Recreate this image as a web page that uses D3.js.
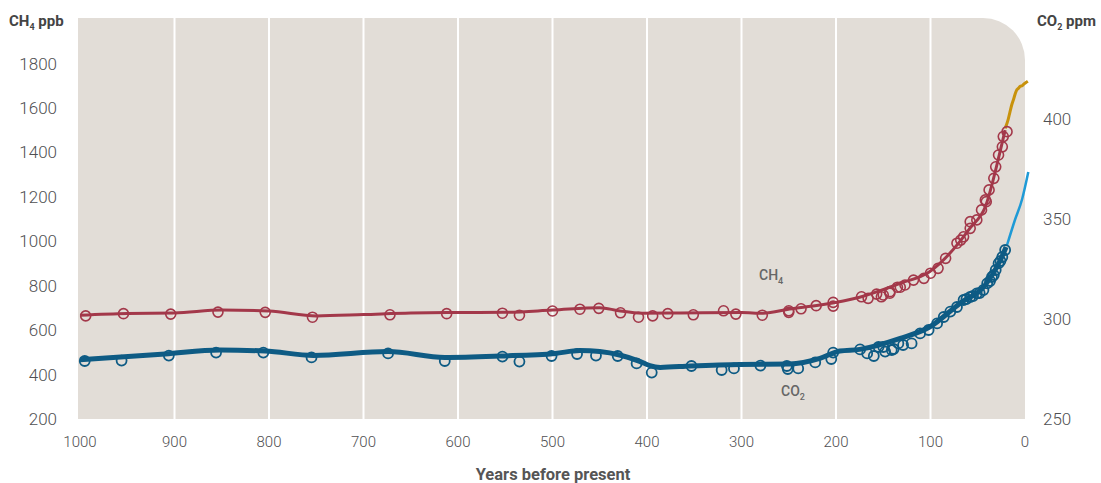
<!DOCTYPE html>
<html>
<head>
<meta charset="utf-8">
<script src="https://cdn.jsdelivr.net/npm/d3@7"></script>
<style>
  body { margin: 0; background: #fff; }
  text { font-family: Roboto, "Noto Sans", sans-serif; }
</style>
</head>
<body>
<script>
// Ice core samples (years before present, value)
const ch4Samples = [[994,664],[954,674],[904,672],[854,681],[804,680],[754,658],[672,669],[612,674],[553,676],[535,667],[500,686],[471,694],[451,698],[428,678],[409,658],[394,664],[378,674],[351,669],[319,687],[306,672],[278,667],[250,687],[250,680],[237,696],[221,710],[203,725],[203,708],[173,750],[166,743],[157,762],[152,750],[150,758],[143,766],[143,773],[135,793],[132,793],[127,803],[118,825],[107,833],[100,856],[92,878],[84,923],[72,991],[68,1005],[65,1020],[58,1058],[58,1088],[51,1096],[46,1141],[42,1186],[41,1178],[38,1231],[33,1283],[31,1335],[28,1388],[24,1425],[23,1471],[19,1493]];
const co2Samples = [[995,279],[956,279.2],[906,281.7],[856,283.2],[806,283.2],[755,280.8],[674,282.8],[614,279],[553,281.2],[535,278.7],[501,281.5],[474,282.5],[454,281.7],[431,281.5],[411,277.8],[395,273.2],[353,276.5],[321,274.5],[308,275.3],[280,276.7],[252,276.5],[251,275],[240,275.3],[222,278.3],[205,280],[203,283.2],[174.5,284.8],[167,282.8],[160,281.5],[155,286],[150,286],[148,283.7],[141,284.5],[139,285],[134,287.8],[129,287],[120,287.8],[111,292.8],[102,294.5],[93,297.8],[86,301],[79,303.7],[72,306],[65,309.5],[62,310],[58,311],[55,311.5],[51,312.8],[48,313],[44,314.5],[40,317.8],[37,319],[35,321],[33,322],[31,324.5],[28,327.8],[26,329],[24,331],[21,334.5]];

// Smoothed curves
const ch4Smooth = [[1000,667],[950,675],[900,677],[850,690],[800,686],[750,664],[700,670],[650,677],[600,679],[550,680],[500,690],[450,701],[430,687],[405,676],[365,677],[300,679],[277,676],[249,695],[217,713],[175,748],[132,811],[101,863],[69,998],[58,1060],[42,1155],[26,1410],[21,1500]];
const co2Smooth = [[1000,279.6],[910,282.5],[852,284.5],[804,284],[753,281.8],[674,283.7],[614,280.8],[556,281.5],[497,282.8],[471,284.2],[450,283.7],[429,282],[407,278.7],[397,276.7],[386,275.8],[354,276.5],[302,277.3],[249,277.5],[217,280.3],[196,284],[175,284.8],[132,290.3],[101,296],[69,307.8],[42,317],[26,329.5],[20,336]];

// Instrumental records
const ch4Recent = [[21,1508],[18,1545],[16,1580],[14,1614],[12,1640],[10,1668],[8.5,1682],[7,1688],[5,1697],[3,1700],[1,1708],[-1,1714],[-3,1720]];
const co2Recent = [[19,337],[11,349],[3,360],[-3.5,373.5]];

const xTicks = [1000, 900, 800, 700, 600, 500, 400, 300, 200, 100, 0];
const ch4Ticks = [200, 400, 600, 800, 1000, 1200, 1400, 1600, 1800];
const co2Ticks = [250, 300, 350, 400];

const W = 1101, H = 483;
const plot = { left: 78, right: 1025, top: 18, bottom: 419 };

const svg = d3.select("body").append("svg")
    .attr("width", W)
    .attr("height", H);

const x = d3.scaleLinear().domain([1000, 0]).range([80, 1025]);
const yCh4 = d3.scaleLinear().domain([200, 2000]).range([plot.bottom, plot.bottom - 400]);
const yCo2 = d3.scaleLinear().domain([250, 450]).range([plot.bottom, plot.bottom - 400]);

// Background panel with rounded top-right corner
const r = 42;
svg.append("path")
    .attr("d", `M${plot.left},${plot.top} H${plot.right - r} A${r},${r} 0 0 1 ${plot.right},${plot.top + r} V${plot.bottom} H${plot.left} Z`)
    .attr("fill", "#e2ddd7");

// Vertical grid
svg.append("g").selectAll("line")
    .data(xTicks.filter(d => d !== 0 && d !== 1000))
    .join("line")
    .attr("x1", d => x(d)).attr("x2", d => x(d))
    .attr("y1", plot.top).attr("y2", plot.bottom)
    .attr("stroke", "#fff")
    .attr("stroke-width", 2);

// Tick labels
const tickColor = "#4f5052";
svg.append("g").selectAll("text")
    .data(ch4Ticks)
    .join("text")
    .attr("x", 57)
    .attr("y", d => yCh4(d))
    .attr("dy", "0.36em")
    .attr("text-anchor", "end")
    .attr("font-size", 17)
    .attr("font-weight", 300)
    .attr("fill", tickColor)
    .text(d => d);

svg.append("g").selectAll("text")
    .data(co2Ticks)
    .join("text")
    .attr("x", 1043)
    .attr("y", d => yCo2(d))
    .attr("dy", "0.36em")
    .attr("font-size", 17)
    .attr("font-weight", 300)
    .attr("fill", tickColor)
    .text(d => d);

svg.append("g").selectAll("text")
    .data(xTicks)
    .join("text")
    .attr("x", d => x(d))
    .attr("y", 447)
    .attr("text-anchor", "middle")
    .attr("font-size", 15)
    .attr("font-weight", 300)
    .attr("fill", tickColor)
    .text(d => d);

// Axis titles
const title = (tx, ty, main, sub, rest, anchor) => {
    const t = svg.append("text")
        .attr("x", tx).attr("y", ty)
        .attr("text-anchor", anchor || "start")
        .attr("font-size", 15)
        .attr("font-weight", "bold")
        .attr("fill", "#444");
    t.append("tspan").text(main);
    if (sub) {
        t.append("tspan").attr("font-size", 9).attr("dy", 4).text(sub);
        t.append("tspan").attr("dy", -4).text(rest);
    }
    return t;
};
title(9, 26, "CH", "4", " ppb");
title(1037, 26, "CO", "2", " ppm");
title(553, 480, "Years before present", null, null, "middle")
    .attr("fill", "#555")
    .attr("font-size", 16.5);

// Lines
const line = yScale => d3.line()
    .x(d => x(d[0]))
    .y(d => yScale(d[1]))
    .curve(d3.curveMonotoneX);

svg.append("path")
    .datum(ch4Smooth)
    .attr("d", line(yCh4))
    .attr("fill", "none")
    .attr("stroke", "#a3384a")
    .attr("stroke-width", 3);

svg.append("path")
    .datum(co2Smooth)
    .attr("d", line(yCo2))
    .attr("fill", "none")
    .attr("stroke", "#0e5b84")
    .attr("stroke-width", 5);

svg.append("path")
    .datum(ch4Recent)
    .attr("d", line(yCh4))
    .attr("fill", "none")
    .attr("stroke", "#c8920c")
    .attr("stroke-width", 3);

svg.append("path")
    .datum(co2Recent)
    .attr("d", line(yCo2))
    .attr("fill", "none")
    .attr("stroke", "#1f9ad6")
    .attr("stroke-width", 2.5);

// Sample circles
svg.append("g").selectAll("circle")
    .data(ch4Samples)
    .join("circle")
    .attr("cx", d => x(d[0]))
    .attr("cy", d => yCh4(d[1]))
    .attr("r", 5)
    .attr("fill", "none")
    .attr("stroke", "#a3384a")
    .attr("stroke-width", 1.6);

svg.append("g").selectAll("circle")
    .data(co2Samples)
    .join("circle")
    .attr("cx", d => x(d[0]))
    .attr("cy", d => yCo2(d[1]))
    .attr("r", 5)
    .attr("fill", "none")
    .attr("stroke", "#0e5b84")
    .attr("stroke-width", 1.8);

// Series labels
const seriesLabel = (tx, ty, main, sub) => {
    const t = svg.append("text")
        .attr("x", tx).attr("y", ty)
        .attr("font-size", 14)
        .attr("font-weight", 500)
        .attr("fill", "#666");
    t.append("tspan").text(main);
    t.append("tspan").attr("font-size", 9).attr("dy", 4).text(sub);
};
seriesLabel(759, 280, "CH", "4");
seriesLabel(781, 396, "CO", "2");
</script>
</body>
</html>
